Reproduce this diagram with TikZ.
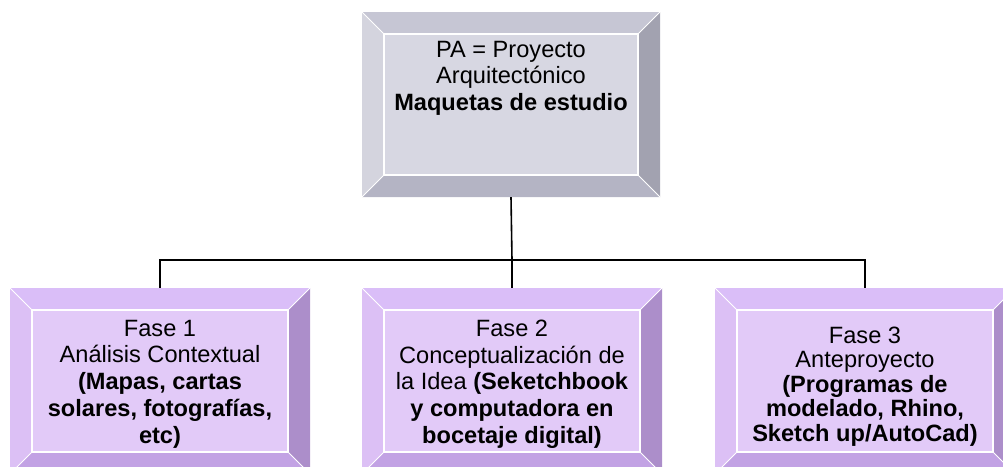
\documentclass[tikz,border=0pt]{standalone}
\usepackage{fontspec}
\setmainfont{Liberation Sans}
\definecolor{gtop}{RGB}{198,198,212}
\definecolor{gleft}{RGB}{212,212,222}
\definecolor{gright}{RGB}{162,162,176}
\definecolor{gbot}{RGB}{180,180,196}
\definecolor{gface}{RGB}{215,215,226}
\definecolor{ptop}{RGB}{218,190,248}
\definecolor{pleft}{RGB}{220,192,245}
\definecolor{pright}{RGB}{172,142,202}
\definecolor{pbot}{RGB}{194,162,228}
\definecolor{pface}{RGB}{226,202,248}
\tikzset{
  bevelbox/.style={rectangle, inner sep=0pt, minimum width=#1, minimum height=186pt},
  bevel/.style={path picture={
    \coordinate (NW) at (path picture bounding box.north west);
    \coordinate (NE) at (path picture bounding box.north east);
    \coordinate (SW) at (path picture bounding box.south west);
    \coordinate (SE) at (path picture bounding box.south east);
    \coordinate (iNW) at ([shift={(22pt,-22pt)}]NW);
    \coordinate (iNE) at ([shift={(-22pt,-22pt)}]NE);
    \coordinate (iSW) at ([shift={(22pt,22pt)}]SW);
    \coordinate (iSE) at ([shift={(-22pt,22pt)}]SE);
    \fill[#1face] (NW) rectangle (SE);
    \fill[#1top] (NW) -- (NE) -- (iNE) -- (iNW) -- cycle;
    \fill[#1left] (NW) -- (iNW) -- (iSW) -- (SW) -- cycle;
    \fill[#1right] (NE) -- (SE) -- (iSE) -- (iNE) -- cycle;
    \fill[#1bot] (SW) -- (iSW) -- (iSE) -- (SE) -- cycle;
    \draw[white, line width=1.2pt] (iNW) rectangle (iSE);
    \draw[white, line width=1pt] (NW) -- (iNW) (NE) -- (iNE) (SW) -- (iSW) (SE) -- (iSE);
  }},
  boxtext/.style={anchor=north, align=center, inner sep=0pt, font=\fontsize{23.6pt}{26.7pt}\selectfont},
  smalltext/.style={anchor=north, align=center, inner sep=0pt, font=\fontsize{23.6pt}{24.5pt}\selectfont},
  conn/.style={draw=black, line width=1.6pt}
}
\begin{document}
\begin{tikzpicture}[x=1pt,y=-1pt]
\useasboundingbox (0,0) rectangle (1003,466);
\begin{scope}
\clip (0,0) rectangle (1003,466);
% nodes
\node[bevelbox=298pt, minimum height=185pt, bevel=g] (top) at (511,104.5) {};
\node[bevelbox=300pt, bevel=p] (f1) at (160,381) {};
\node[bevelbox=300pt, bevel=p] (f2) at (512,381) {};
\node[bevelbox=300pt, bevel=p] (f3) at (865,381) {};
% texts
\node[boxtext] (topt) at ([yshift=-29pt]top.north) {PA = Proyecto\\Arquitectónico\\\textbf{Maquetas de estudio}};
\node[boxtext] (f1t) at ([yshift=-32pt]f1.north) {Fase 1\\Análisis Contextual\\\textbf{(Mapas, cartas}\\\textbf{solares, fotografías,}\\\textbf{etc)}};
\node[boxtext] (f2t) at ([yshift=-32pt]f2.north) {Fase 2\\Conceptualización de\\la Idea \textbf{(Seketchbook}\\\textbf{y computadora en}\\\textbf{bocetaje digital)}};
\node[smalltext] (f3t) at ([yshift=-39pt]f3.north) {Fase 3\\Anteproyecto\\\textbf{(Programas de}\\\textbf{modelado, Rhino,}\\\textbf{Sketch up/AutoCad)}};
% connectors
\coordinate (hub) at (512,260);
\draw[conn] (top.south) -- (hub);
\draw[conn] (f1.north) |- (hub);
\draw[conn] (f3.north) |- (hub);
\draw[conn] (hub) -- (f2.north);
\end{scope}
\end{tikzpicture}
\end{document}
